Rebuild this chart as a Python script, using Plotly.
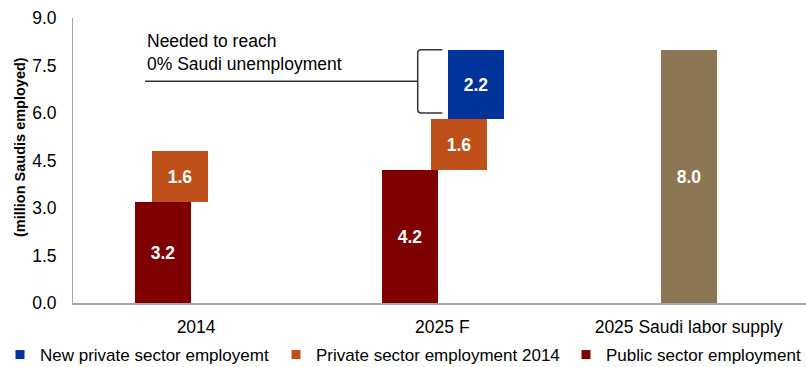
import plotly.graph_objects as go

# ---- data ----
categories = ["2014", "2025 F", "2025 Saudi labor supply"]
public_sector = [3.2, 4.2, None]
private_2014 = [1.6, 1.6, None]
new_private = [None, 2.2, None]
labor_supply = [None, None, 8.0]
y_ticks = [0.0, 1.5, 3.0, 4.5, 6.0, 7.5, 9.0]

# ---- styles ----
C_NEW = "#003399"
C_PRIV = "#C0501A"
C_PUB = "#7F0000"
C_LAB = "#8B7753"
FONT = "Liberation Sans, Arial, sans-serif"
FS = 17.5
FS_LEG = 17
BAR_W = 0.227
OFF_PUB, OFF_PRIV = -0.133, [-0.066, 0.067, 0]
OFF_NEW, OFF_LAB = 0.136, 0.0

xs = list(range(len(categories)))

def lbl(vals):
    return [None if v is None else f"{v:.1f}" for v in vals]

priv_base = [p for p in public_sector]
new_base = [None if (a is None or b is None) else a + b for a, b in zip(public_sector, private_2014)]

txt = dict(textposition="inside", insidetextanchor="middle", textangle=0,
           constraintext="none",
           textfont=dict(family=FONT, size=FS, color="white", weight="bold"))

fig = go.Figure()
fig.add_trace(go.Bar(x=xs, y=public_sector, base=[0] * 3, width=BAR_W,
                     offset=OFF_PUB - BAR_W / 2, marker=dict(color=C_PUB, line_width=0),
                     text=lbl(public_sector), showlegend=False, **txt))
fig.add_trace(go.Bar(x=xs, y=private_2014, base=priv_base, width=BAR_W,
                     offset=[o - BAR_W / 2 for o in OFF_PRIV], marker=dict(color=C_PRIV, line_width=0),
                     text=lbl(private_2014), showlegend=False, **txt))
fig.add_trace(go.Bar(x=xs, y=new_private, base=new_base, width=BAR_W,
                     offset=OFF_NEW - BAR_W / 2, marker=dict(color=C_NEW, line_width=0),
                     text=lbl(new_private), showlegend=False, **txt))
fig.add_trace(go.Bar(x=xs, y=labor_supply, base=[0] * 3, width=BAR_W,
                     offset=OFF_LAB - BAR_W / 2, marker=dict(color=C_LAB, line_width=0),
                     text=lbl(labor_supply), showlegend=False, **txt))

# legend entries (small square markers)
for name, col, lg in [("New private sector employemt", C_NEW, "legend"),
                      ("Private sector employment 2014", C_PRIV, "legend2"),
                      ("Public sector employment", C_PUB, "legend3")]:
    fig.add_trace(go.Scatter(x=[None], y=[None], mode="markers", name=name,
                             marker=dict(symbol="square", size=9, color=col),
                             legend=lg, showlegend=True))

leg_common = dict(orientation="h", yref="container", y=1 - 355 / 367, yanchor="middle",
                  xanchor="left", bgcolor="rgba(0,0,0,0)", borderwidth=0,
                  font=dict(family=FONT, size=FS_LEG, color="#000000"))
fig.update_layout(
    legend=dict(x=(0 - 73) / 733, **leg_common),
    legend2=dict(x=(276 - 73) / 733, **leg_common),
    legend3=dict(x=(568 - 73) / 733, **leg_common),
)

# bracket annotation
top = new_base[1] + new_private[1]
bot = new_base[1] + 0.2
mid = (top + bot) / 2
xv, xe, xl = 0.90, 1.0, -0.207
fig.add_shape(type="path", xref="x", yref="y",
              path=f"M {xe},{top} L {xv+0.015},{top} Q {xv},{top} {xv},{top-0.1} "
                   f"L {xv},{bot+0.1} Q {xv},{bot} {xv+0.015},{bot} L {xe},{bot}",
              line=dict(color="#333333", width=1.5))
fig.add_shape(type="line", xref="x", yref="y", x0=xl, x1=xv, y0=mid, y1=mid,
              line=dict(color="#333333", width=1.5))
fig.add_annotation(xref="x", yref="y", x=xl, y=mid + 0.9, xanchor="left", yanchor="middle",
                   text="Needed to reach<br>0% Saudi unemployment", showarrow=False, align="left",
                   font=dict(family=FONT, size=FS, color="#000000"))

# y-axis title as annotation
fig.add_annotation(xref="paper", yref="paper", x=(20 - 73) / 733, y=(303 - 147) / 285,
                   xanchor="center", yanchor="middle", textangle=-90, showarrow=False,
                   text="(million Saudis employed)",
                   font=dict(family=FONT, size=14.5, color="#000000", weight="bold"))

fig.update_layout(
    width=806, height=367,
    margin=dict(l=73, r=0, t=18, b=64, pad=0),
    plot_bgcolor="white", paper_bgcolor="white",
    barmode="overlay", bargap=0,
    font=dict(family=FONT, size=FS, color="#000000"),
    xaxis=dict(range=[-0.5, 2.477], tickvals=xs, ticktext=categories, showgrid=False,
               zeroline=False, showline=True, linecolor="#A6A6A6", linewidth=2,
               ticks="", ticklabelstandoff=7, tickfont=dict(family=FONT, size=FS, color="#000000")),
    yaxis=dict(range=[0, 9], tickvals=y_ticks, tickformat=".1f", showgrid=False,
               zeroline=False, showline=True, linecolor="#A6A6A6", linewidth=1,
               ticks="", ticklabelstandoff=12, tickfont=dict(family=FONT, size=FS, color="#000000")),
)

fig.write_html("out.html")
